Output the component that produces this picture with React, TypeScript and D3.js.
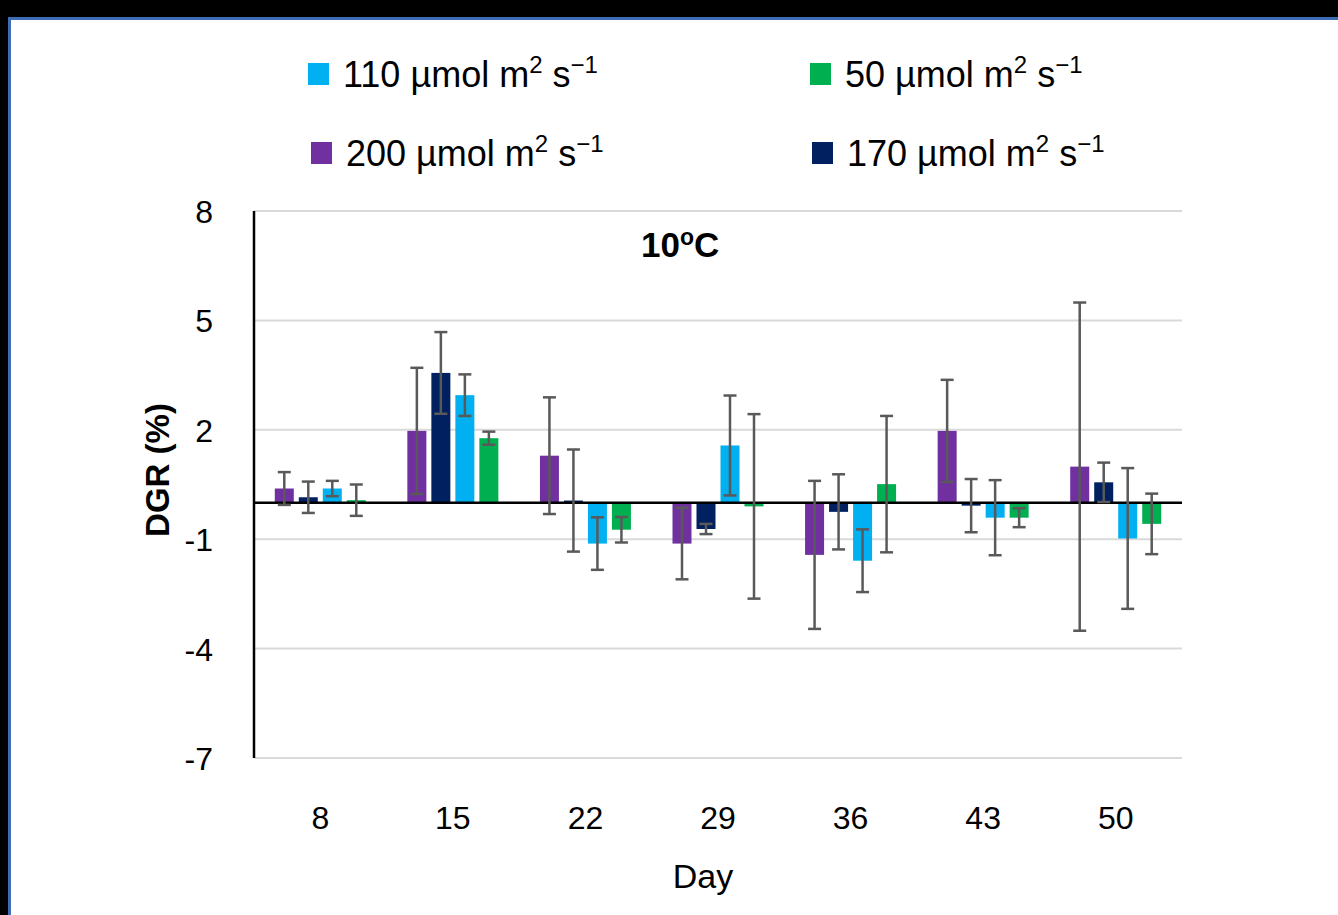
import React from "react";
import * as d3 from "d3";

const days = ["8", "15", "22", "29", "36", "43", "50"];
const seriesLevels = ["200", "170", "110", "50"];
const seriesUnitBase = " µmol m";
const seriesColors = ["#7030A0", "#002060", "#00B0F0", "#00B050"];

const values200 = [0.39, 1.97, 1.29, -1.12, -1.43, 1.97, 0.99];
const values170 = [0.15, 3.56, 0.06, -0.72, -0.25, -0.08, 0.56];
const values110 = [0.39, 2.95, -1.12, 1.57, -1.59, -0.41, -0.98];
const values50 = [0.07, 1.77, -0.74, -0.1, 0.51, -0.41, -0.58];

const err200 = [0.45, 1.73, 1.6, 0.98, 2.03, 1.4, 4.5];
const err170 = [0.43, 1.12, 1.4, 0.14, 1.03, 0.73, 0.54];
const err110 = [0.21, 0.57, 0.72, 1.37, 0.86, 1.03, 1.93];
const err50 = [0.43, 0.18, 0.35, 2.53, 1.87, 0.26, 0.83];

const yTicks = [8, 5, 2, -1, -4, -7];

const seriesValues = [values200, values170, values110, values50];
const seriesErrors = [err200, err170, err110, err50];

// legend order as in picture: row1: 110, 50; row2: 200, 170
const legendOrder = [
  { idx: 2, col: 0, row: 0 },
  { idx: 3, col: 1, row: 0 },
  { idx: 0, col: 0, row: 1 },
  { idx: 1, col: 1, row: 1 },
];

const FONT = "'Liberation Sans', 'DejaVu Sans', sans-serif";

export default function App() {
  const W = 1338;
  const H = 915;
  const left = 254;
  const right = 1182;
  const top = 211;
  const bottom = 758;

  const y = d3.scaleLinear().domain([-7, 8]).range([bottom, top]);
  const x = d3.scaleBand<string>().domain(days).range([left, right]).padding(0);
  const inner = d3
    .scaleBand<string>()
    .domain(seriesLevels)
    .range([-45.5, 45.5])
    .paddingInner(5 / 24)
    .paddingOuter(0);

  const capHalf = 6.5;

  return (
    <svg
      width={W}
      height={H}
      style={{ position: "absolute", left: 0, top: 0, display: "block" }}
      fontFamily={FONT}
    >
      <rect x={0} y={0} width={W} height={H} fill="#000" />
      <rect x={10} y={19} width={W} height={H} fill="#fff" />
      <path d={`M9.5,${H} V18.5 H${W}`} fill="none" stroke="#3F6DB5" strokeWidth={3} />

      {/* gridlines */}
      {yTicks.map((t) => (
        <line
          key={"g" + t}
          x1={left}
          x2={right}
          y1={y(t)}
          y2={y(t)}
          stroke="#d9d9d9"
          strokeWidth={2}
        />
      ))}

      {/* bars */}
      {seriesLevels.map((s, si) =>
        days.map((d, di) => {
          const v = seriesValues[si][di];
          const cx = (x(d) as number) + x.bandwidth() / 2;
          const bx = cx + (inner(s) as number);
          const y0 = y(0);
          const yv = y(v);
          return (
            <rect
              key={`b${si}-${di}`}
              x={bx}
              y={Math.min(y0, yv)}
              width={inner.bandwidth()}
              height={Math.abs(yv - y0)}
              fill={seriesColors[si]}
            />
          );
        })
      )}

      {/* zero line */}
      <line x1={left} x2={right} y1={y(0)} y2={y(0)} stroke="#000" strokeWidth={2.5} />

      {/* error bars */}
      {seriesLevels.map((s, si) =>
        days.map((d, di) => {
          const v = seriesValues[si][di];
          const e = seriesErrors[si][di];
          const cx = (x(d) as number) + x.bandwidth() / 2;
          const ex = cx + (inner(s) as number) + inner.bandwidth() / 2;
          const yt = y(v + e);
          const yb = y(v - e);
          return (
            <g key={`e${si}-${di}`} stroke="#595959" strokeWidth={2.5}>
              <line x1={ex} x2={ex} y1={yt} y2={yb} />
              <line x1={ex - capHalf} x2={ex + capHalf} y1={yt} y2={yt} />
              <line x1={ex - capHalf} x2={ex + capHalf} y1={yb} y2={yb} />
            </g>
          );
        })
      )}

      {/* y axis line */}
      <line x1={left} x2={left} y1={top} y2={bottom} stroke="#000" strokeWidth={2.5} />

      {/* y tick labels */}
      {yTicks.map((t) => (
        <text
          key={"yt" + t}
          x={213}
          y={y(t) + 12}
          textAnchor="end"
          fontSize={32}
          fill="#000"
        >
          {t}
        </text>
      ))}

      {/* x tick labels */}
      {days.map((d) => (
        <text
          key={"xt" + d}
          x={(x(d) as number) + x.bandwidth() / 2}
          y={829}
          textAnchor="middle"
          fontSize={32}
          fill="#000"
        >
          {d}
        </text>
      ))}

      {/* axis titles */}
      <text x={703} y={888} textAnchor="middle" fontSize={34} fill="#000">
        Day
      </text>
      <text
        transform={`translate(169,470) rotate(-90)`}
        textAnchor="middle"
        fontSize={33}
        fontWeight="bold"
        fill="#000"
      >
        DGR (%)
      </text>

      {/* panel label */}
      <text x={641} y={257} fontSize={35} fontWeight="bold" fill="#000">
        <tspan>10</tspan>
        <tspan fontSize={23} dy={-12}>o</tspan>
        <tspan dy={12}>C</tspan>
      </text>

      {/* legend */}
      {legendOrder.map(({ idx, col, row }) => {
        const sx = col === 0 ? 308 + row * 3 : 810 + row * 2;
        const sy = row === 0 ? 63 : 142;
        return (
          <g key={"lg" + idx}>
            <rect x={sx} y={sy} width={21} height={22} fill={seriesColors[idx]} />
            <text x={sx + 35} y={sy + 24} fontSize={36} fill="#000">
              <tspan>{seriesLevels[idx] + seriesUnitBase}</tspan>
              <tspan fontSize={24} dy={-14}>2</tspan>
              <tspan dy={14}> s</tspan>
              <tspan fontSize={24} dy={-14}>−1</tspan>
            </text>
          </g>
        );
      })}
    </svg>
  );
}
